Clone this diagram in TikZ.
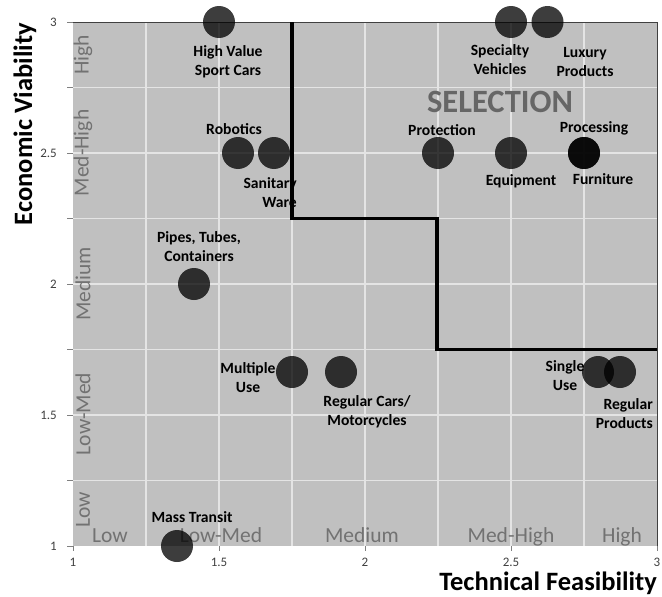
\documentclass[tikz,border=0pt]{standalone}
\usepackage{fontspec}
\setmainfont{Carlito}
\definecolor{bggray}{HTML}{C0C0C0}
\definecolor{gridc}{HTML}{E4E4E4}
\definecolor{catc}{HTML}{727272}
\definecolor{selc}{HTML}{666666}
\definecolor{tickc}{HTML}{404040}
\begin{document}
\begin{tikzpicture}[x=1pt,y=-1pt,
  dot/.style={circle,fill=black,fill opacity=0.76,draw=none,minimum size=32pt,inner sep=0pt},
  lbl/.style={font=\fontsize{15.6}{19}\selectfont\bfseries,text=black,inner sep=0pt,align=center},
  cat/.style={font=\fontsize{21.5}{24}\selectfont,text=catc,inner sep=0pt},
  tick/.style={font=\fontsize{13}{15}\selectfont,text=tickc,inner sep=0pt},
  axt/.style={font=\fontsize{26.5}{30}\selectfont\bfseries,text=black,inner sep=0pt}]
\useasboundingbox (0,0) rectangle (662,597);
% plot area
\fill[bggray] (73,22) rectangle (657,546);
\foreach \gx in {146,219,292,365,438,511,584}
  \draw[gridc,line width=1.6pt] (\gx,22) -- (\gx,546);
\foreach \gy in {87.5,153,218.5,284,349.5,415,480.5}
  \draw[gridc,line width=1.6pt] (73,\gy) -- (657,\gy);
% ticks
\foreach \gy in {22,87.5,153,218.5,284,349.5,415,480.5,546}
  \draw[gray,line width=0.8pt] (67,\gy) -- (73,\gy);
\foreach \gx in {73,219,365,511,657}
  \draw[gray,line width=0.8pt] (\gx,546) -- (\gx,551);
\draw[tickc,line width=0.9pt] (73,22) -- (657,22) -- (657,546);
% tick labels
\node[tick,anchor=east] (ty3) at (57,22) {3};
\node[tick,anchor=east] (ty25) at (57,153) {2.5};
\node[tick,anchor=east] (ty2) at (57,284) {2};
\node[tick,anchor=east] (ty15) at (57,415) {1.5};
\node[tick,anchor=east] (ty1) at (57,546) {1};
\node[tick] (tx1) at (73,562) {1};
\node[tick] (tx15) at (219,562) {1.5};
\node[tick] (tx2) at (365,562) {2};
\node[tick] (tx25) at (511,562) {2.5};
\node[tick] (tx3) at (657,562) {3};
% axis titles
\node[axt,anchor=base east] (xt) at (657,590) {Technical Feasibility};
\node[axt,rotate=90,anchor=base] (yt) at (32,124) {Economic Viability};
% category labels
\node[cat,rotate=90] (cy5) at (83,55) {High};
\node[cat,rotate=90] (cy4) at (83,153) {Med-High};
\node[cat,rotate=90] (cy3) at (83,284) {Medium};
\node[cat,rotate=90] (cy2) at (83,414) {Low-Med};
\node[cat,rotate=90] (cy1) at (83,510) {Low};
\node[cat,anchor=base] (cx1) at (110,542) {Low};
\node[cat,anchor=base] (cx2) at (221,542) {Low-Med};
\node[cat,anchor=base] (cx3) at (362,542) {Medium};
\node[cat,anchor=base] (cx4) at (511,542) {Med-High};
\node[cat,anchor=base] (cx5) at (622,542) {High};
\node[font=\fontsize{32.5}{36}\selectfont\bfseries,text=selc,inner sep=0pt] (sel) at (500,102) {SELECTION};
% points
\node[dot] (hv) at (219,22) {};
\node[dot] (spec) at (511,22) {};
\node[dot] (lux) at (547.5,22) {};
\node[dot] (rob) at (238,153) {};
\node[dot] (san) at (274,153) {};
\node[dot] (prot) at (438,153) {};
\node[dot] (equip) at (511,153) {};
\node[dot] (proc) at (584,153) {};
\node[dot] (furn) at (584,153) {};
\node[dot] (pipe) at (194,284) {};
\node[dot] (multi) at (292,372) {};
\node[dot] (regc) at (341,372) {};
\node[dot] (single) at (598,372) {};
\node[dot] (regp) at (620,372) {};
\node[dot] (mass) at (177,546) {};
% labels
\node[lbl] (lhv) at (228,61.5) {High Value\\Sport Cars};
\node[lbl] (lrob) at (234,129) {Robotics};
\node[lbl,align=right,anchor=east] (lsan) at (297,192.5) {Sanitary\\Ware};
\node[lbl] (lpipe) at (199,247) {Pipes, Tubes,\\Containers};
\node[lbl] (lspec) at (500,59.5) {Specialty\\Vehicles};
\node[lbl] (llux) at (585,62) {Luxury\\Products};
\node[lbl] (lprot) at (442,130) {Protection};
\node[lbl] (lproc) at (594,128) {Processing};
\node[lbl] (lequip) at (521,181) {Equipment};
\node[lbl] (lfurn) at (603,179) {Furniture};
\node[lbl] (lmulti) at (248,377.5) {Multiple\\Use};
\node[lbl] (lregc) at (367,411.5) {Regular Cars/\\Motorcycles};
\node[lbl] (lsingle) at (565,375.5) {Single\\Use};
\node[lbl,align=right,anchor=east] (lregp) at (653,414) {Regular\\Products};
\node[lbl] (lmass) at (192,517) {Mass Transit};
% selection boundary
\coordinate (b1) at (292,22);
\coordinate (b2) at (292,218.5);
\coordinate (b3) at (437,218.5);
\coordinate (b4) at (437,349.5);
\coordinate (b5) at (657,349.5);
\draw[black,line width=3.2pt,line join=miter] (b1) -- (b2) -- (b3) -- (b4) -- (b5);
\end{tikzpicture}
\end{document}
